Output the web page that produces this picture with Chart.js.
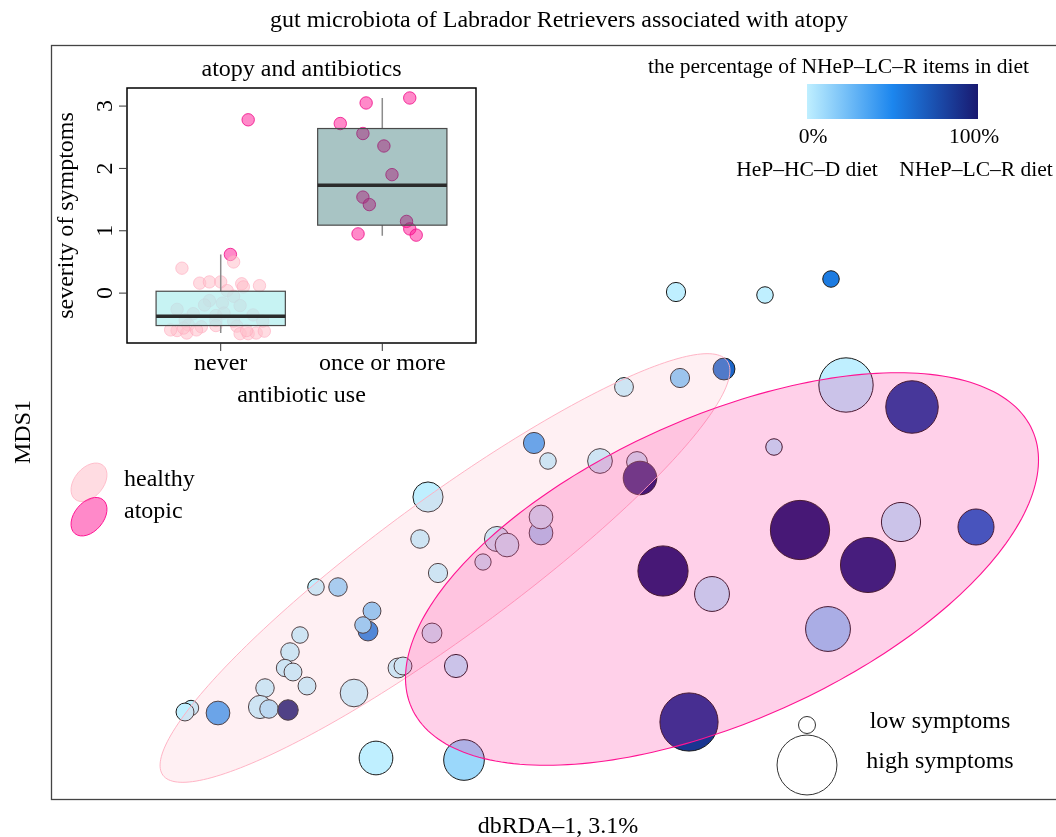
<!DOCTYPE html>
<html><head><meta charset="utf-8">
<script src="https://cdn.jsdelivr.net/npm/chart.js@4.4.0/dist/chart.umd.min.js"></script>
<style>
html,body{margin:0;padding:0;background:#fff;overflow:hidden;width:1056px;height:837px;position:relative;}
#main{position:absolute;left:0;top:0;}
#inset{position:absolute;left:0;top:0;}
</style></head><body>
<canvas id="main" width="1070" height="837" style="width:1070px;height:837px"></canvas>
<canvas id="inset" width="500" height="420" style="width:500px;height:420px"></canvas>
<script>
// ---------------- main ordination data (one entry per dog) ----------------
const dogX = [62.5,71.4,78.0,67.3,62.9,57.3,79.5,86.1,48.3,49.7,54.9,58.6,58.9,72.3,37.7,36.9,49.0,49.0,44.6,45.6,43.2,38.7,74.9,85.0,92.5,81.7,61.2,66.1,77.7,26.5,28.7,32.1,31.7,31.2,38.1,24.9,23.9,23.4,24.2,34.7,35.2,40.5,25.6,21.4,30.3,20.9,21.8,23.7,16.7,14.0,13.4,63.8,32.5,41.3];
const dogY = [50.7,50.4,52.0,43.0,42.1,41.2,41.4,39.2,35.6,33.8,33.8,33.7,32.1,35.2,30.2,26.0,26.6,28.2,26.0,25.4,23.7,22.6,26.9,27.7,27.2,23.4,22.8,20.5,17.0,21.2,21.2,18.8,16.8,17.4,16.6,16.4,14.7,13.1,12.7,13.1,13.3,13.3,11.3,11.1,10.6,9.2,9.0,8.9,8.6,9.1,8.7,7.7,4.1,3.9];
const dogSeverity = [-0.31,-0.54,-0.54,-0.08,-0.31,-0.34,2.72,2.56,-0.14,-0.54,0.17,-0.17,0.93,-0.54,0.63,-0.37,0.08,0.08,0.20,0.08,-0.56,-0.31,3.14,1.41,1.14,2.78,2.36,1.04,1.90,-0.54,-0.37,-0.42,-0.25,-0.54,-0.25,-0.54,-0.37,-0.47,-0.42,-0.25,-0.42,0.03,-0.42,-0.37,0.42,0.03,-0.37,-0.20,0.08,-0.64,-0.42,3.05,0.94,1.54];
const dogDietPct = [0,0,55,65,20,0,0,82,40,0,0,0,100,0,0,0,12,0,0,0,0,0,100,0,65,97,100,0,13,0,15,20,58,18,0,0,0,0,0,0,0,0,0,0,0,0,7,100,40,0,0,87,0,11];

// confidence ellipses (data units)
const healthyEllipse = {cx:39.4, cy:23.1, a:35.0, b:6.8, angle:36.3};
const atopicEllipse  = {cx:67.1, cy:23.0, a:34.0, b:15.2, angle:24.1};

// colour scale for % NHeP-LC-R items
const PAL_STOPS = [0, 0.5, 1];
const PAL_COLORS = ['#bfefff', '#1c86ee', '#191970'];
const sizeLegendSeverity = [-0.5, 3.2];
const sizeLegendLabels = ['low symptoms', 'high symptoms'];
const colorLegendTicks = ['0%', '100%'];
const colorLegendEnds = ['HeP\u2013HC\u2013D diet', 'NHeP\u2013LC\u2013R diet'];
const groupLegend = ['healthy', 'atopic'];

// ---------------- inset (box plot) data ----------------
const insetCategories = ['never', 'once or more'];
const insetYTicks = [0, 1, 2, 3];
const neverHealthySev = [0.40,0.50,0.16,0.18,0.18,0.15,0.10,0.12,0.04,-0.05,-0.12,-0.19,-0.16,-0.20,-0.26,-0.33,-0.36,-0.32,-0.35,-0.43,-0.44,-0.45,-0.45,-0.51,-0.54,-0.52,-0.53,-0.60,-0.64,-0.65,-0.65,-0.64,-0.61,-0.60,-0.56,-0.59,-0.59];
const neverHealthyJit = [-0.24,0.08,-0.13,-0.07,0.00,0.13,0.14,0.24,0.04,0.08,-0.07,-0.10,0.01,0.12,-0.27,-0.17,-0.03,0.02,0.20,-0.22,-0.03,0.08,0.26,-0.20,-0.12,-0.03,0.10,-0.27,-0.21,0.12,0.17,0.22,0.27,0.16,-0.23,-0.31,-0.15];
const neverAtopicSev = [2.78, 0.62];
const neverAtopicJit = [0.17, 0.06];
const onceAtopicSev = [3.13,3.05,2.72,2.56,2.36,1.90,1.54,1.42,1.15,1.03,0.95,0.93];
const onceAtopicJit = [0.17,-0.10,-0.26,-0.12,0.01,0.06,-0.12,-0.08,0.15,0.17,-0.15,0.21];
const boxQ1  = [-0.52, 1.09];
const boxMed = [-0.37, 1.73];
const boxQ3  = [0.03, 2.64];
const whiskLo = [-0.64, 0.92];
const whiskHi = [0.62, 3.13];

// ---------------- helpers ----------------
const SERIF = '"Liberation Serif","Times New Roman",serif';
function hexToRgb(h){h=h.replace('#','');return [parseInt(h.substr(0,2),16),parseInt(h.substr(2,2),16),parseInt(h.substr(4,2),16)];}
function paletteColor(p){
  const t = Math.max(0, Math.min(1, p/100));
  let i = 0; while (i < PAL_STOPS.length-2 && t > PAL_STOPS[i+1]) i++;
  const f = (t-PAL_STOPS[i])/(PAL_STOPS[i+1]-PAL_STOPS[i]);
  const c0 = hexToRgb(PAL_COLORS[i]), c1 = hexToRgb(PAL_COLORS[i+1]);
  const c = c0.map((v,k)=>Math.round(v+(c1[k]-v)*f));
  return 'rgb('+c.join(',')+')';
}
function radiusFor(sev){ return 11.4 + 5.8*sev; }

function ellipsePath(ctx, xs, ys, e){
  const th = e.angle*Math.PI/180;
  ctx.beginPath();
  for (let k=0;k<=240;k++){
    const t = k/240*2*Math.PI;
    const dx = e.a*Math.cos(t), dy = e.b*Math.sin(t);
    const x = e.cx + dx*Math.cos(th) - dy*Math.sin(th);
    const y = e.cy + dx*Math.sin(th) + dy*Math.cos(th);
    const px = xs.getPixelForValue(x), py = ys.getPixelForValue(y);
    if (k===0) ctx.moveTo(px,py); else ctx.lineTo(px,py);
  }
  ctx.closePath();
}

const mainOverlay = {
  id:'mainOverlay',
  afterDatasetsDraw(chart){
    const ctx = chart.ctx, xs = chart.scales.x, ys = chart.scales.y, ca = chart.chartArea;
    ctx.save();
    ctx.beginPath(); ctx.rect(ca.left, ca.top, ca.right-ca.left, ca.bottom-ca.top); ctx.clip();
    // healthy ellipse
    ellipsePath(ctx, xs, ys, healthyEllipse);
    ctx.fillStyle = 'rgba(255,192,203,0.24)'; ctx.fill();
    ctx.strokeStyle = 'rgba(255,176,194,0.95)'; ctx.lineWidth = 1; ctx.stroke();
    // atopic ellipse
    ellipsePath(ctx, xs, ys, atopicEllipse);
    ctx.fillStyle = 'rgba(255,20,147,0.2)'; ctx.fill();
    ctx.strokeStyle = '#ff1493'; ctx.lineWidth = 1.1; ctx.stroke();
    ctx.restore();
  },
  afterDraw(chart){
    const ctx = chart.ctx, ca = chart.chartArea;
    ctx.save();
    // frame
    ctx.strokeStyle = '#444'; ctx.lineWidth = 1.3;
    ctx.strokeRect(ca.left+0.5, ca.top+0.5, ca.right-ca.left, ca.bottom-ca.top);
    ctx.fillStyle = '#000';
    // title and axis labels
    ctx.font = '24px '+SERIF; ctx.textAlign = 'center'; ctx.textBaseline = 'alphabetic';
    ctx.fillText('gut microbiota of Labrador Retrievers associated with atopy', 559, 27);
    ctx.fillText('dbRDA\u20131, 3.1%', 558, 833);
    ctx.save(); ctx.translate(30, 432); ctx.rotate(-Math.PI/2); ctx.fillText('MDS1', 0, 0); ctx.restore();
    // group legend
    const legC = [[89,482.3,'rgba(255,192,203,0.55)','rgba(255,185,200,0.9)'],[89,516.7,'rgba(255,20,147,0.5)','#ff1493']];
    legC.forEach((l,i)=>{
      ctx.beginPath(); ctx.ellipse(l[0], l[1], 22, 14.5, -50*Math.PI/180, 0, 2*Math.PI);
      ctx.fillStyle = l[2]; ctx.fill(); ctx.strokeStyle = l[3]; ctx.lineWidth = 1; ctx.stroke();
    });
    ctx.fillStyle = '#000'; ctx.textAlign = 'left';
    ctx.fillText(groupLegend[0], 124, 485.5);
    ctx.fillText(groupLegend[1], 124, 518);
    // size legend
    const sizeY = [725, 765];
    sizeLegendSeverity.forEach((s,i)=>{
      ctx.beginPath(); ctx.arc(807, sizeY[i], radiusFor(s), 0, 2*Math.PI);
      ctx.strokeStyle = '#333'; ctx.lineWidth = 1; ctx.stroke();
    });
    ctx.textAlign = 'center';
    ctx.fillText(sizeLegendLabels[0], 940, 728);
    ctx.fillText(sizeLegendLabels[1], 940, 768);
    // colour legend
    const g = ctx.createLinearGradient(807, 0, 978, 0);
    PAL_STOPS.forEach((s,i)=>g.addColorStop(s, PAL_COLORS[i]));
    ctx.fillStyle = g; ctx.fillRect(807, 84, 171, 35);
    ctx.fillStyle = '#000'; ctx.font = '21.5px '+SERIF;
    ctx.fillText('the percentage of NHeP\u2013LC\u2013R items in diet', 838.5, 73);
    ctx.fillText(colorLegendTicks[0], 813, 143);
    ctx.fillText(colorLegendTicks[1], 974, 143);
    ctx.fillText(colorLegendEnds[0], 807, 176);
    ctx.fillText(colorLegendEnds[1], 976, 176);
    ctx.restore();
  }
};

new Chart(document.getElementById('main'), {
  type:'bubble',
  data:{datasets:[{
    data: dogX.map((x,i)=>({x:x, y:dogY[i], r:radiusFor(dogSeverity[i])})),
    backgroundColor: dogDietPct.map(paletteColor),
    borderColor:'#1a1a1a', borderWidth:1, hoverRadius:0, hoverBorderWidth:1
  }]},
  options:{
    responsive:false, animation:false, events:[],
    layout:{autoPadding:false, padding:{left:51, top:45, right:5, bottom:38}},
    scales:{
      x:{type:'linear', min:0, max:101.4, display:false},
      y:{type:'linear', min:0, max:75.4, display:false}
    },
    plugins:{legend:{display:false}, tooltip:{enabled:false}}
  },
  plugins:[mainOverlay]
});

// ---------------- inset chart ----------------
const insetOverlay = {
  id:'insetOverlay',
  afterDatasetsDraw(chart){
    const ctx = chart.ctx, xs = chart.scales.x, ys = chart.scales.y, ca = chart.chartArea;
    ctx.save();
    const fills = ['rgba(175,238,238,0.7)', 'rgba(6,86,86,0.35)'];
    for (let g=0; g<2; g++){
      const xc = xs.getPixelForValue(g+1);
      const x0 = xs.getPixelForValue(g+1-0.4), x1 = xs.getPixelForValue(g+1+0.4);
      ctx.strokeStyle = '#8c8c8c'; ctx.lineWidth = 1.5;
      ctx.beginPath();
      ctx.moveTo(xc, ys.getPixelForValue(whiskHi[g])); ctx.lineTo(xc, ys.getPixelForValue(boxQ3[g]));
      ctx.moveTo(xc, ys.getPixelForValue(boxQ1[g])); ctx.lineTo(xc, ys.getPixelForValue(whiskLo[g]));
      ctx.stroke();
      const yq3 = ys.getPixelForValue(boxQ3[g]), yq1 = ys.getPixelForValue(boxQ1[g]);
      ctx.fillStyle = fills[g]; ctx.fillRect(x0, yq3, x1-x0, yq1-yq3);
      ctx.strokeStyle = '#4a4a4a'; ctx.lineWidth = 1.2; ctx.strokeRect(x0, yq3, x1-x0, yq1-yq3);
      const ym = ys.getPixelForValue(boxMed[g]);
      ctx.strokeStyle = '#2b2b2b'; ctx.lineWidth = 3.5;
      ctx.beginPath(); ctx.moveTo(x0, ym); ctx.lineTo(x1, ym); ctx.stroke();
    }
    // frame
    ctx.strokeStyle = '#000'; ctx.lineWidth = 1.5;
    ctx.strokeRect(ca.left, ca.top, ca.right-ca.left, ca.bottom-ca.top);
    // ticks
    ctx.lineWidth = 1; ctx.strokeStyle = '#333';
    ctx.font = '24px '+SERIF; ctx.fillStyle = '#000';
    insetYTicks.forEach(v=>{
      const y = ys.getPixelForValue(v);
      ctx.beginPath(); ctx.moveTo(ca.left, y); ctx.lineTo(ca.left-8, y); ctx.stroke();
      ctx.save(); ctx.translate(111.5, y); ctx.rotate(-Math.PI/2);
      ctx.textAlign = 'center'; ctx.textBaseline = 'alphabetic'; ctx.fillText(String(v), 0, 0); ctx.restore();
    });
    insetCategories.forEach((c,i)=>{
      const x = xs.getPixelForValue(i+1);
      ctx.beginPath(); ctx.moveTo(x, ca.bottom); ctx.lineTo(x, ca.bottom+8); ctx.stroke();
      ctx.textAlign = 'center'; ctx.fillText(c, x, 370);
    });
    const cx = (ca.left+ca.right)/2;
    ctx.textAlign = 'center';
    ctx.fillText('antibiotic use', cx, 401.5);
    ctx.fillText('atopy and antibiotics', cx, 75.5);
    ctx.save(); ctx.translate(73, (ca.top+ca.bottom)/2); ctx.rotate(-Math.PI/2);
    ctx.fillText('severity of symptoms', 0, 0); ctx.restore();
    ctx.restore();
  }
};

new Chart(document.getElementById('inset'), {
  type:'scatter',
  data:{datasets:[
    {data: neverHealthySev.map((v,i)=>({x:1+neverHealthyJit[i], y:v})), pointRadius:6.2,
     backgroundColor:'rgba(255,192,203,0.55)', borderColor:'rgba(255,170,190,0.6)', borderWidth:1},
    {data: neverAtopicSev.map((v,i)=>({x:1+neverAtopicJit[i], y:v})), pointRadius:6.2,
     backgroundColor:'rgba(255,20,147,0.5)', borderColor:'rgba(240,20,140,0.85)', borderWidth:1},
    {data: onceAtopicSev.map((v,i)=>({x:2+onceAtopicJit[i], y:v})), pointRadius:6.2,
     backgroundColor:'rgba(255,20,147,0.5)', borderColor:'rgba(240,20,140,0.85)', borderWidth:1}
  ]},
  options:{
    responsive:false, animation:false, events:[],
    layout:{autoPadding:false, padding:{left:127, top:88, right:24, bottom:77}},
    scales:{
      x:{type:'linear', min:0.42, max:2.58, display:false},
      y:{type:'linear', min:-0.8, max:3.29, display:false}
    },
    plugins:{legend:{display:false}, tooltip:{enabled:false}}
  },
  plugins:[insetOverlay]
});
</script>
</body></html>
